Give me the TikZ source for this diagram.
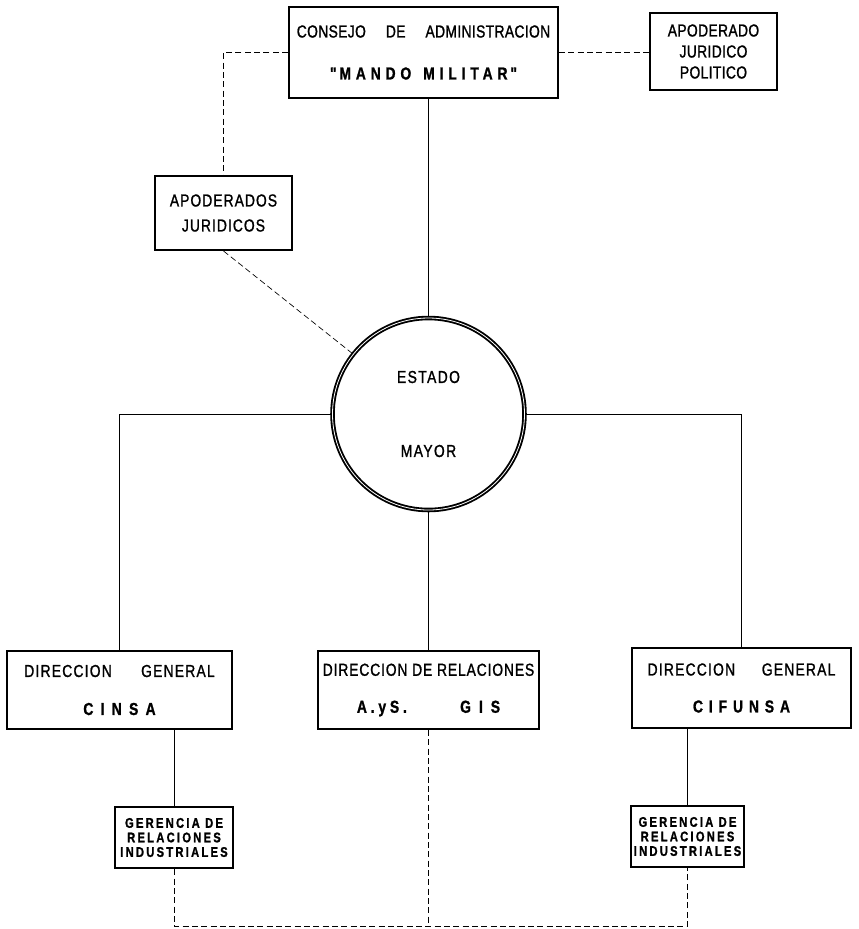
\documentclass[tikz,border=0pt]{standalone}
\usepackage{fontspec}
\newfontfamily\orgfont[FakeStretch=0.8, FakeBold=1.2]{Liberation Sans}
\newcommand\lsp[1]{\addfontfeature{LetterSpace=#1}}

\tikzset{every picture/.style={line width=0.75pt}}
\tikzset{
  orgbox/.style={draw, rectangle, line width=1.5pt, inner sep=0pt, align=center,
    font=\orgfont\fontsize{13}{15.75}\selectfont},
  gerbox/.style={draw, rectangle, line width=2pt, inner sep=0pt, align=center,
    font=\orgfont\bfseries\fontsize{10.5}{10.9}\selectfont\lsp{16}},
  staffring/.style={draw, circle, line width=1.4pt, double, double distance=0.6pt,
    inner sep=0pt, align=center, font=\orgfont\fontsize{13}{15}\selectfont\lsp{8}},
  dashline/.style={dash pattern=on 4.5pt off 2.5pt},
}

\begin{document}
\begin{tikzpicture}[x=0.75pt,y=0.75pt,yscale=-1,xscale=1]
\path[use as bounding box] (0,0) rectangle (859,929);

%Shape: top boxes
\node[orgbox, minimum width=201.75pt, minimum height=68.25pt] (consejo) at (423.5,52.5)
  {\lsp{2}CONSEJO\hspace{15pt}DE\hspace{15pt}ADMINISTRACION\\[15.75pt]
   {\bfseries\lsp{28}"\,MANDO\hspace{9pt}MILITAR\,"}};
\node[orgbox, minimum width=95.25pt, minimum height=57.75pt] (apoderado) at (713.5,51.5)
  {\lsp{2}APODERADO\\\lsp{2}JURIDICO\\\lsp{2}POLITICO};
\node[orgbox, minimum width=102.75pt, minimum height=55.5pt] (apoderados) at (223.5,213)
  {\lsp{6}APODERADOS\\[3pt]\lsp{6}JURIDICOS};

%Shape: Circle
\node[staffring, minimum size=144pt] (estado) at (428.5,414) {ESTADO\\[40.5pt]MAYOR};

%Shape: second row
\node[orgbox, minimum width=168.75pt, minimum height=58.5pt] (cinsa) at (119.5,690)
  {\lsp{7}DIRECCION\hspace{22pt}GENERAL\\[12.75pt]{\bfseries\lsp{42}CINSA}};
\node[orgbox, minimum width=165.75pt, minimum height=58.5pt] (relaciones) at (428.5,690)
  {\lsp{5}DIRECCION DE RELACIONES\\[12pt]{\bfseries\lsp{22}A.yS.\hspace{40pt}G\hspace{6pt}I\hspace{6pt}S}};
\node[orgbox, minimum width=164.25pt, minimum height=60pt] (cifunsa) at (741.5,688)
  {\lsp{7}DIRECCION\hspace{20pt}GENERAL\\[12pt]{\bfseries\lsp{34}CIFUNSA}};

%Shape: third row
\node[gerbox, minimum width=88.5pt, minimum height=45.75pt] (gerL) at (174,837.5)
  {GERENCIA DE\\RELACIONES\\INDUSTRIALES};
\node[gerbox, minimum width=84.75pt, minimum height=45.75pt] (gerR) at (687.5,836.5)
  {GERENCIA DE\\RELACIONES\\INDUSTRIALES};

\coordinate (base) at (430,926);

% solid lines
\draw (estado.north |- consejo.south) -- (estado.north);
\draw (estado.west) -| (cinsa.north);
\draw (estado.east) -| (cifunsa.north);
\draw (estado.south) -- (relaciones.north);
\draw (gerL.north |- cinsa.south) -- (gerL.north);
\draw (gerR.north |- cifunsa.south) -- (gerR.north);

% dashed lines
\draw[dashline] (consejo.west) -| (apoderados.north);
\draw[dashline] (consejo.east) -- (consejo.east -| apoderado.west);
\draw[dashline, line width=0.5pt] (apoderados.south) -- (estado);
\draw[dashline] (gerL.south) |- (base) -| (gerR.south);
\draw[dashline] (relaciones.south) -- (relaciones.south |- base);
\end{tikzpicture}
\end{document}
